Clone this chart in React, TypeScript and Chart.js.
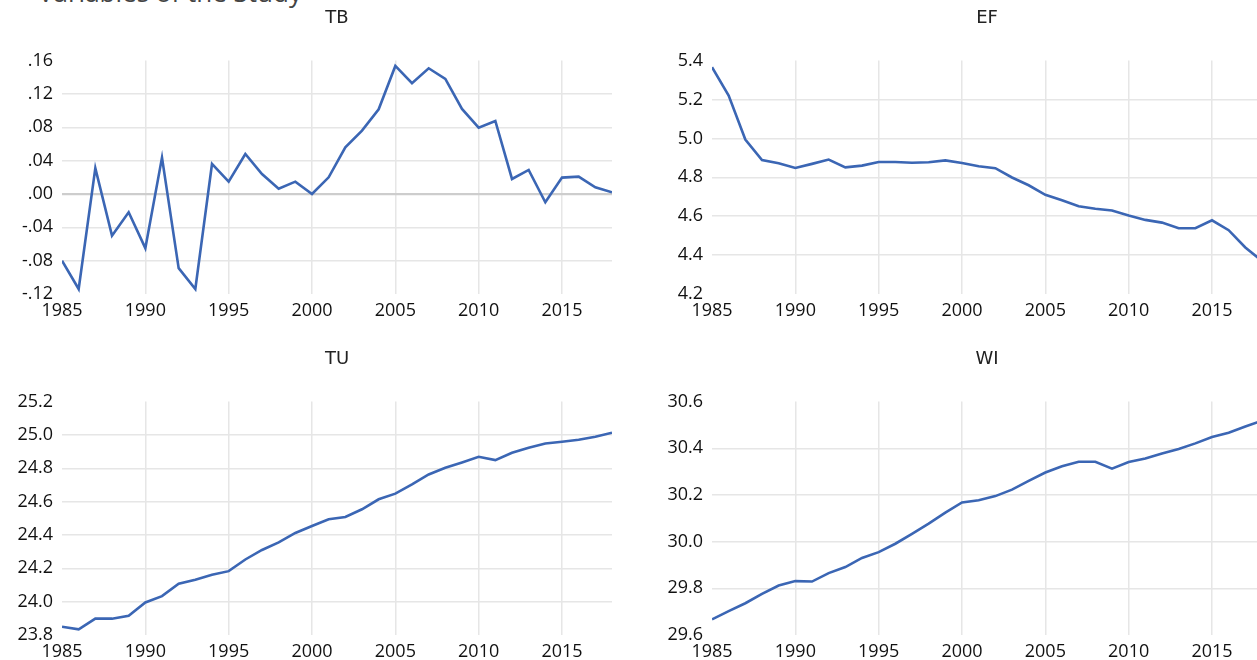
import React, { useEffect, useRef } from "react";
import { Chart, registerables } from "chart.js";

Chart.register(...registerables);

const YEARS = [
  1985, 1986, 1987, 1988, 1989, 1990, 1991, 1992, 1993, 1994, 1995, 1996,
  1997, 1998, 1999, 2000, 2001, 2002, 2003, 2004, 2005, 2006, 2007, 2008,
  2009, 2010, 2011, 2012, 2013, 2014, 2015, 2016, 2017, 2018,
];

const TB = [
  -0.08, -0.114, 0.031, -0.05, -0.022, -0.065, 0.0436, -0.089, -0.114, 0.036,
  0.0148, 0.048, 0.024, 0.0064, 0.0148, 0.0, 0.02, 0.056, 0.076, 0.1016,
  0.1536, 0.1328, 0.1508, 0.138, 0.102, 0.0796, 0.0876, 0.018, 0.0288, -0.01,
  0.0196, 0.0208, 0.008, 0.002,
];

const EF = [
  5.366, 5.22, 4.994, 4.889, 4.872, 4.848, 4.869, 4.891, 4.851, 4.86, 4.879,
  4.879, 4.875, 4.877, 4.887, 4.874, 4.857, 4.847, 4.799, 4.759, 4.71, 4.682,
  4.651, 4.638, 4.629, 4.603, 4.581, 4.567, 4.538, 4.538, 4.579, 4.528, 4.439,
  4.37,
];

const TU = [
  23.85, 23.834, 23.898, 23.898, 23.916, 23.995, 24.033, 24.107, 24.131,
  24.161, 24.183, 24.253, 24.31, 24.356, 24.412, 24.454, 24.494, 24.508,
  24.554, 24.614, 24.648, 24.703, 24.763, 24.803, 24.835, 24.869, 24.849,
  24.893, 24.923, 24.949, 24.959, 24.971, 24.989, 25.013,
];

const WI = [
  29.667, 29.702, 29.736, 29.776, 29.812, 29.831, 29.829, 29.865, 29.891,
  29.93, 29.955, 29.991, 30.033, 30.077, 30.124, 30.168, 30.177, 30.195,
  30.223, 30.26, 30.296, 30.323, 30.342, 30.342, 30.313, 30.341, 30.356,
  30.378, 30.397, 30.421, 30.448, 30.467, 30.493, 30.518,
];

const X_TICKS = [1985, 1990, 1995, 2000, 2005, 2010, 2015];

const TB_Y_TICKS = [-0.12, -0.08, -0.04, 0, 0.04, 0.08, 0.12, 0.16];
const TB_Y_LABELS = ["-.12", "-.08", "-.04", ".00", ".04", ".08", ".12", ".16"];

const EF_Y_TICKS = [4.2, 4.4, 4.6, 4.8, 5.0, 5.2, 5.4];
const EF_Y_LABELS = ["4.2", "4.4", "4.6", "4.8", "5.0", "5.2", "5.4"];

const TU_Y_TICKS = [23.8, 24.0, 24.2, 24.4, 24.6, 24.8, 25.0, 25.2];
const TU_Y_LABELS = ["23.8", "24.0", "24.2", "24.4", "24.6", "24.8", "25.0", "25.2"];

const WI_Y_TICKS = [29.6, 29.8, 30.0, 30.2, 30.4, 30.6];
const WI_Y_LABELS = ["29.6", "29.8", "30.0", "30.2", "30.4", "30.6"];

const LINE_COLOR = "#3b66b4";
const GRID_COLOR = "#e6e6e6";
const ZERO_COLOR = "#cdcdcd";
const TICK_FONT = { family: "'Open Sans', sans-serif", size: 18 };

type PanelProps = {
  title: string;
  values: number[];
  yTicks: number[];
  yLabels: string[];
  zeroLine?: boolean;
  left: number;
  top: number;
};

function Panel({ title, values, yTicks, yLabels, zeroLine, left, top }: PanelProps) {
  const ref = useRef<HTMLCanvasElement | null>(null);

  useEffect(() => {
    if (!ref.current) return;
    const lastY = yTicks.length - 1;
    const chart = new Chart(ref.current, {
      type: "line",
      data: {
        datasets: [
          {
            data: YEARS.map((yr, i) => ({ x: yr, y: values[i] })),
            borderColor: LINE_COLOR,
            borderWidth: 2.6,
            pointRadius: 0,
            tension: 0,
            fill: false,
          },
        ],
      },
      options: {
        responsive: false,
        animation: false,
        devicePixelRatio: 1,
        layout: { padding: { left: 0, right: 18, top: 0, bottom: 0 } },
        plugins: {
          legend: { display: false },
          tooltip: { enabled: false },
          title: {
            display: true,
            text: title,
            fullSize: false,
            color: "#222222",
            font: { family: "'DejaVu Sans', sans-serif", size: 18, weight: "normal" },
            padding: { top: 8, bottom: 31 },
          },
        },
        scales: {
          x: {
            type: "linear",
            min: YEARS[0],
            max: YEARS[YEARS.length - 1],
            afterBuildTicks: (s: any) => {
              s.ticks = X_TICKS.map((v) => ({ value: v }));
            },
            afterFit: (s: any) => {
              s.height = 36;
            },
            ticks: {
              callback: (v: any) => String(v),
              color: "#111111",
              font: TICK_FONT,
              padding: 6,
              maxRotation: 0,
              autoSkip: false,
            },
            grid: {
              color: (ctx: any) => (ctx.index === 0 ? "rgba(0,0,0,0)" : GRID_COLOR),
              lineWidth: 1.5,
              drawTicks: false,
            },
            border: { display: false },
          },
          y: {
            type: "linear",
            min: yTicks[0],
            max: yTicks[lastY],
            afterBuildTicks: (s: any) => {
              s.ticks = yTicks.map((v) => ({ value: v }));
            },
            afterFit: (s: any) => {
              s.width = 62;
            },
            ticks: {
              callback: (_v: any, i: number) => yLabels[i],
              color: "#111111",
              font: TICK_FONT,
              padding: 9,
              autoSkip: false,
            },
            grid: {
              color: (ctx: any) => {
                if (ctx.index === 0 || ctx.index === lastY) return "rgba(0,0,0,0)";
                if (zeroLine && Math.abs(yTicks[ctx.index]) < 1e-9) return ZERO_COLOR;
                return GRID_COLOR;
              },
              lineWidth: (ctx: any) =>
                zeroLine && Math.abs(yTicks[ctx.index] ?? 1) < 1e-9 ? 2.2 : 1.5,
              drawTicks: false,
            },
            border: { display: false },
          },
        },
      },
    } as any);
    return () => chart.destroy();
  }, [title, values, yTicks, yLabels, zeroLine]);

  return (
    <canvas
      ref={ref}
      width={630}
      height={330}
      style={{ position: "absolute", left, top, width: 630, height: 330, display: "block" }}
    />
  );
}

export default function App() {
  return (
    <div
      style={{
        position: "fixed",
        left: 0,
        top: 0,
        width: 1257,
        height: 660,
        overflow: "hidden",
        background: "#ffffff",
      }}
    >
      <div
        style={{
          position: "absolute",
          left: 38,
          top: -21,
          fontFamily: "'Open Sans', sans-serif",
          fontSize: 26,
          lineHeight: "26px",
          color: "#444444",
          whiteSpace: "nowrap",
        }}
      >
        Variables of the Study
      </div>
      <Panel title="TB" values={TB} yTicks={TB_Y_TICKS} yLabels={TB_Y_LABELS} zeroLine left={0} top={0} />
      <Panel title="EF" values={EF} yTicks={EF_Y_TICKS} yLabels={EF_Y_LABELS} left={650} top={0} />
      <Panel title="TU" values={TU} yTicks={TU_Y_TICKS} yLabels={TU_Y_LABELS} left={0} top={341} />
      <Panel title="WI" values={WI} yTicks={WI_Y_TICKS} yLabels={WI_Y_LABELS} left={650} top={341} />
    </div>
  );
}
